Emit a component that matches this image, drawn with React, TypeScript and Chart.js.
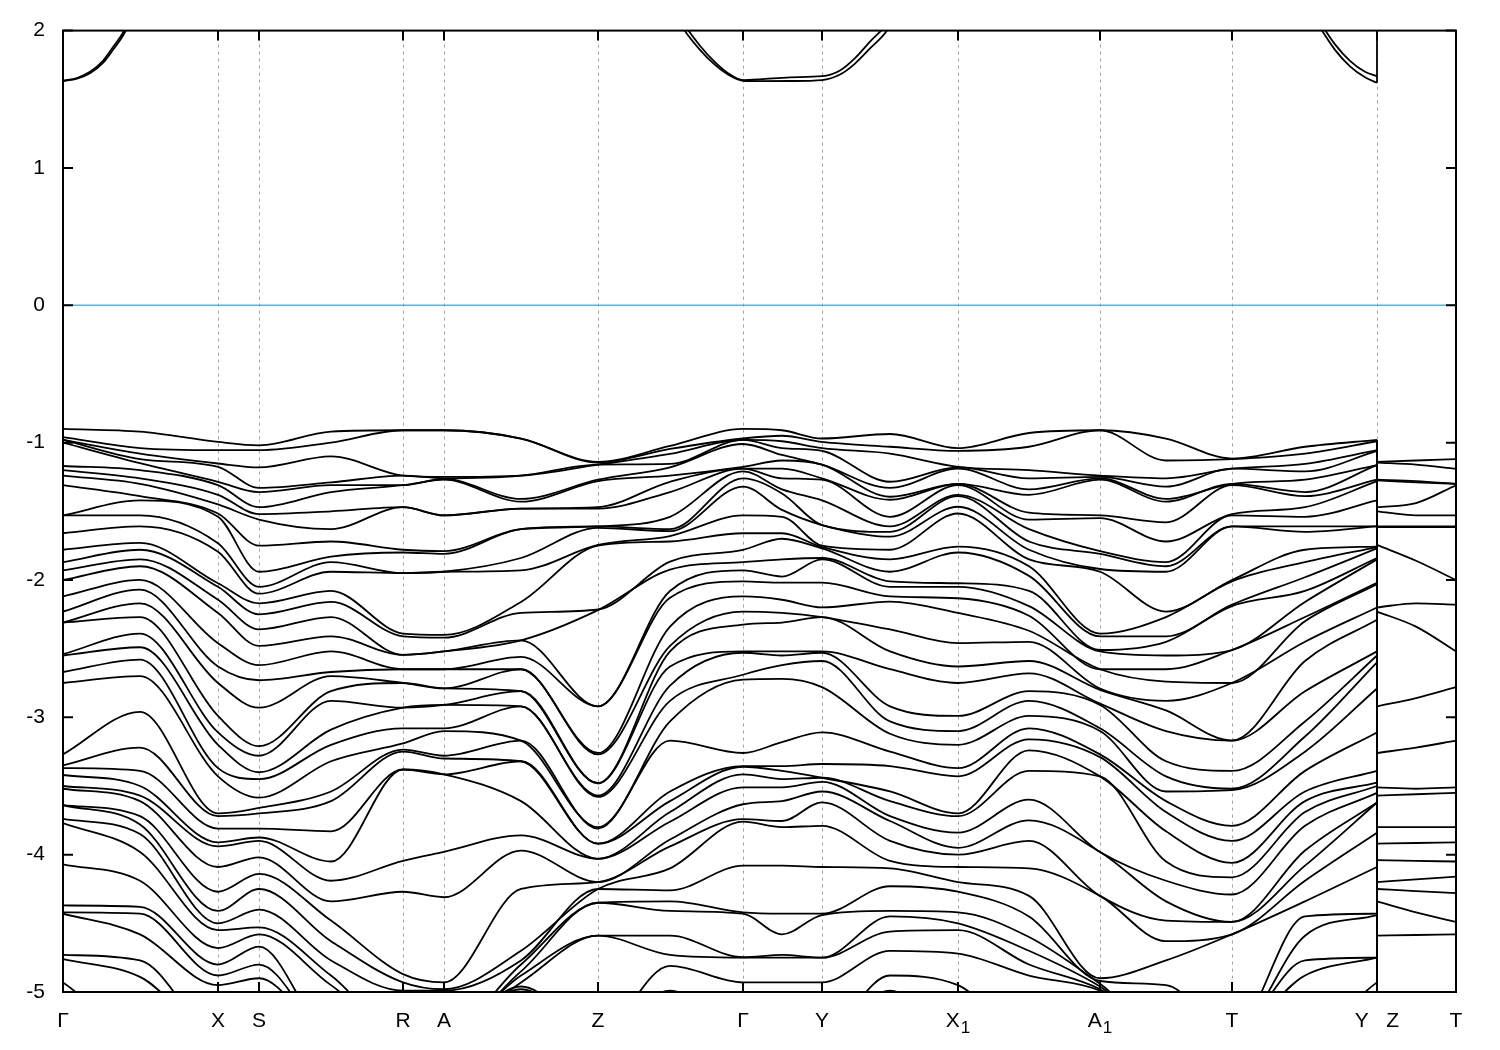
import React, { useEffect, useRef } from "react";
import { Chart, registerables } from "chart.js";

Chart.register(...registerables);

// ---- high-symmetry path ----
const kTickPos = [0, 0.155, 0.196, 0.34, 0.381, 0.535, 0.68, 0.759, 0.895, 1.037, 1.169, 1.314, 1.393];
const kTickNames = ["Γ", "X", "S", "R", "A", "Z", "Γ", "Y", "X", "A", "T", "Y   Z", "T"];
const kTickSubs = ["", "", "", "", "", "", "", "", "1", "1", "", "", ""];
const yTickValues = [-5, -4, -3, -2, -1, 0, 1, 2];

// k positions of the sampled columns (Γ ... Y) and of the Z–T piece
const kMain = [0, 0.077, 0.155, 0.196, 0.268, 0.34, 0.381, 0.458, 0.535, 0.607, 0.68, 0.719, 0.759, 0.827, 0.895, 0.966, 1.037, 1.103, 1.169, 1.242, 1.314];
const kZT = [1.314, 1.353, 1.393];

const NB = 42; // valence bands drawn
const BELOW = -5.3; // band lies below the plotted window

// ---- valence band energies (eV) at each column ----
const eG1 = [-0.90, -0.96, -0.98, -0.98, -1.00, -1.17, -1.20, -1.24, -1.31, -1.53, -1.53, -1.66, -1.78, -1.87, -1.93, -2.00, -2.12, -2.23, -2.31, -2.31, -2.54, -2.55, -2.67, -2.75, -3.27, -3.35, -3.37, -3.42, -3.50, -3.52, -3.64, -3.64, -3.74, -3.77, -4.07, -4.37, -4.42, -4.43, -4.73, -4.76, -4.93];
const e01 = [-0.92, -1.04, -1.08, -1.12, -1.15, -1.20, -1.26, -1.30, -1.39, -1.42, -1.53, -1.61, -1.73, -1.78, -1.85, -1.90, -2.00, -2.07, -2.17, -2.27, -2.39, -2.49, -2.58, -2.70, -2.96, -3.22, -3.39, -3.50, -3.57, -3.61, -3.72, -3.78, -3.85, -3.98, -4.19, -4.38, -4.43, -4.58, -4.77, -4.89];
const eX = [-0.995, -1.055, -1.152, -1.176, -1.285, -1.31, -1.38, -1.45, -1.516, -1.54, -1.733, -1.794, -2.024, -2.05, -2.144, -2.24, -2.46, -2.63, -2.75, -2.99, -3.11, -3.20, -3.37, -3.43, -3.70, -3.72, -3.81, -3.91, -3.94, -4.09, -4.27, -4.41, -4.50, -4.55, -4.68, -4.80, -4.88, -4.95];
const eS = [-1.02, -1.055, -1.18, -1.33, -1.36, -1.47, -1.52, -1.56, -1.75, -1.94, -2.05, -2.10, -2.17, -2.25, -2.36, -2.48, -2.62, -2.73, -2.93, -3.21, -3.28, -3.40, -3.45, -3.585, -3.66, -3.70, -3.81, -3.875, -3.90, -4.02, -4.14, -4.25, -4.40, -4.53, -4.58, -4.67, -4.80, -4.90];
const e04 = [-0.92, -1.00, -1.10, -1.29, -1.31, -1.36, -1.50, -1.63, -1.72, -1.83, -1.87, -1.94, -2.08, -2.16, -2.27, -2.41, -2.52, -2.67, -2.70, -2.81, -2.88, -3.09, -3.20, -3.32, -3.54, -3.61, -3.83, -4.05, -4.19, -4.34, -4.48, -4.63, -4.77, -4.88, -4.95];
const eR = [-0.91, -0.91, -1.24, -1.24, -1.31, -1.31, -1.47, -1.47, -1.78, -1.80, -1.95, -1.95, -2.39, -2.41, -2.545, -2.545, -2.65, -2.65, -2.75, -2.75, -2.93, -2.93, -3.08, -3.19, -3.235, -3.25, -3.38, -3.38, -4.045, -4.27, -4.87, -4.93, -4.99];
const eA = [-0.91, -0.91, -1.25, -1.26, -1.265, -1.27, -1.53, -1.53, -1.79, -1.81, -1.94, -1.94, -2.40, -2.42, -2.52, -2.52, -2.65, -2.65, -2.79, -2.79, -2.91, -2.91, -3.08, -3.10, -3.28, -3.30, -3.415, -3.415, -3.98, -4.31, -4.93, -4.98, -4.99];
const e07 = [-0.97, -0.97, -1.24, -1.24, -1.41, -1.43, -1.48, -1.48, -1.63, -1.63, -1.84, -1.93, -2.16, -2.24, -2.44, -2.44, -2.56, -2.65, -2.65, -2.81, -2.81, -2.92, -2.92, -3.17, -3.17, -3.32, -3.32, -3.61, -3.86, -3.97, -4.25, -4.70, -4.77, -4.80, -4.85, -4.88, -4.93, -4.96, -4.98, -5.00];
const eZ = [-1.14, -1.145, -1.16, -1.16, -1.27, -1.28, -1.47, -1.48, -1.61, -1.61, -1.62, -1.745, -1.75, -2.215, -2.22, -2.92, -2.92, -3.26, -3.27, -3.48, -3.48, -3.57, -3.58, -3.80, -3.81, -3.92, -3.92, -4.03, -4.03, -4.20, -4.20, -4.25, -4.25, -4.35, -4.35, -4.59, -4.59];
const e09 = [-1.024, -1.046, -1.082, -1.155, -1.18, -1.24, -1.285, -1.36, -1.54, -1.63, -1.645, -1.68, -1.72, -1.866, -1.925, -2.08, -2.13, -2.34, -2.48, -2.52, -2.63, -2.77, -2.88, -3.03, -3.17, -3.54, -3.61, -3.69, -3.76, -3.89, -3.94, -4.10, -4.26, -4.34, -4.41, -4.59, -4.73, -4.81, -4.99];
const eG2 = [-0.90, -0.97, -0.98, -0.98, -1.01, -1.176, -1.19, -1.19, -1.21, -1.26, -1.32, -1.53, -1.66, -1.78, -1.87, -1.93, -2.01, -2.12, -2.23, -2.325, -2.52, -2.53, -2.69, -2.725, -3.26, -3.355, -3.36, -3.415, -3.51, -3.633, -3.742, -3.76, -4.08, -4.42, -4.43, -4.747, -4.75, -4.93];
const e11 = [-0.91, -0.95, -0.99, -1.04, -1.09, -1.13, -1.19, -1.26, -1.34, -1.37, -1.49, -1.54, -1.66, -1.70, -1.85, -1.975, -2.02, -2.144, -2.24, -2.31, -2.52, -2.55, -2.62, -2.72, -3.18, -3.355, -3.39, -3.45, -3.51, -3.61, -3.755, -3.80, -4.08, -4.43, -4.58, -4.73, -4.75, -4.93];
const eY = [-0.97, -0.995, -1.04, -1.06, -1.16, -1.16, -1.26, -1.27, -1.42, -1.60, -1.60, -1.75, -1.76, -1.77, -1.84, -1.85, -2.02, -2.20, -2.27, -2.27, -2.52, -2.53, -2.59, -2.78, -3.11, -3.34, -3.44, -3.44, -3.47, -3.54, -3.62, -3.79, -4.09, -4.43, -4.44, -4.75, -4.75, -4.93];
const e13 = [-0.937, -1.03, -1.08, -1.285, -1.33, -1.394, -1.416, -1.54, -1.61, -1.65, -1.685, -1.78, -1.85, -1.94, -2.01, -2.05, -2.12, -2.157, -2.36, -2.52, -2.65, -2.92, -3.03, -3.12, -3.25, -3.355, -3.54, -3.61, -3.72, -3.755, -3.90, -4.045, -4.10, -4.23, -4.41, -4.45, -4.56, -4.70, -4.88, -4.99];
const eX1 = [-1.04, -1.06, -1.176, -1.18, -1.19, -1.30, -1.30, -1.31, -1.38, -1.39, -1.467, -1.516, -1.757, -1.80, -2.024, -2.05, -2.133, -2.24, -2.46, -2.63, -2.75, -2.99, -3.10, -3.20, -3.37, -3.43, -3.70, -3.72, -3.84, -3.95, -4.00, -4.09, -4.20, -4.27, -4.42, -4.50, -4.55, -4.72, -4.95];
const e15 = [-0.93, -1.03, -1.20, -1.26, -1.34, -1.38, -1.51, -1.56, -1.63, -1.72, -1.78, -1.85, -1.90, -1.97, -2.08, -2.19, -2.26, -2.37, -2.45, -2.59, -2.68, -2.81, -2.88, -2.99, -3.08, -3.16, -3.24, -3.39, -3.60, -3.75, -3.90, -4.10, -4.30, -4.45, -4.60, -4.70, -4.80, -4.88];
const eA1 = [-0.91, -0.91, -1.24, -1.25, -1.26, -1.27, -1.53, -1.55, -1.79, -1.81, -1.92, -1.94, -2.39, -2.41, -2.51, -2.52, -2.65, -2.65, -2.79, -2.80, -2.90, -2.91, -3.08, -3.10, -3.27, -3.29, -3.43, -3.43, -3.98, -3.98, -4.30, -4.30, -4.90, -4.92, -4.94, -4.96, -4.98, -4.99];
const e17 = [-0.97, -1.13, -1.26, -1.32, -1.41, -1.43, -1.58, -1.72, -1.87, -1.90, -1.94, -2.23, -2.27, -2.41, -2.45, -2.55, -2.65, -2.74, -2.88, -2.95, -3.10, -3.32, -3.43, -3.54, -3.61, -3.69, -3.83, -4.05, -4.19, -4.34, -4.48, -4.63, -4.77, -4.95];
const eT = [-1.116, -1.12, -1.19, -1.19, -1.30, -1.30, -1.31, -1.52, -1.53, -1.61, -1.61, -2.00, -2.01, -2.18, -2.19, -2.51, -2.51, -2.75, -2.75, -3.17, -3.17, -3.39, -3.52, -3.53, -3.79, -3.90, -4.06, -4.165, -4.29, -4.49, -4.49, -4.58, -4.58];
const e19 = [-1.03, -1.08, -1.155, -1.21, -1.27, -1.36, -1.39, -1.47, -1.54, -1.61, -1.65, -1.78, -1.87, -1.98, -2.08, -2.16, -2.27, -2.30, -2.45, -2.59, -2.81, -3.03, -3.14, -3.25, -3.39, -3.54, -3.61, -3.69, -3.79, -3.97, -4.08, -4.19, -4.34, -4.45, -4.59, -4.77, -4.88];
const eY2 = [-0.98, -0.99, -1.055, -1.06, -1.164, -1.164, -1.27, -1.28, -1.42, -1.61, -1.61, -1.757, -1.76, -1.77, -1.84, -1.85, -2.02, -2.03, -2.20, -2.29, -2.52, -2.55, -2.60, -2.79, -3.11, -3.39, -3.476, -3.50, -3.55, -3.62, -3.62, -3.84, -4.09, -4.43, -4.44, -4.75, -4.75, -4.93];
// Z–T piece
const eZb = [-1.14, -1.145, -1.27, -1.275, -1.47, -1.50, -1.61, -1.615, -1.745, -2.20, -2.23, -2.92, -3.26, -3.51, -3.57, -3.80, -3.92, -4.04, -4.20, -4.25, -4.34, -4.59];
const eZT1 = [-1.13, -1.16, -1.28, -1.29, -1.44, -1.53, -1.61, -1.615, -1.86, -2.17, -2.34, -2.86, -3.22, -3.52, -3.56, -3.80, -3.915, -4.045, -4.18, -4.265, -4.42, -4.585];
const eTb = [-1.12, -1.19, -1.30, -1.30, -1.31, -1.53, -1.61, -1.615, -2.00, -2.18, -2.52, -2.78, -3.17, -3.51, -3.55, -3.80, -3.91, -4.05, -4.16, -4.28, -4.49, -4.58];

// ---- conduction bands (two nearly degenerate bands) ----
const cbK1 = [0, 0.014, 0.027, 0.04, 0.05, 0.062, 0.08];
const cbA1 = [1.632, 1.65, 1.69, 1.765, 1.86, 1.99, 2.3];
const cbB1 = [1.635, 1.655, 1.70, 1.78, 1.88, 2.01, 2.32];
const cbK2 = [0.58, 0.62, 0.637, 0.652, 0.665, 0.68, 0.697, 0.727, 0.759, 0.777, 0.792, 0.807, 0.824, 0.86];
const cbA2 = [2.6, 2.02, 1.86, 1.75, 1.68, 1.635, 1.632, 1.633, 1.64, 1.68, 1.76, 1.87, 2.0, 2.5];
const cbB2 = [2.6, 2.06, 1.89, 1.77, 1.69, 1.64, 1.645, 1.66, 1.668, 1.71, 1.80, 1.92, 2.05, 2.5];
const cbK3 = [1.22, 1.242, 1.259, 1.272, 1.287, 1.302, 1.314];
const cbA3 = [2.45, 2.2, 2.0, 1.86, 1.74, 1.66, 1.62];
const cbB3 = [2.5, 2.25, 2.04, 1.9, 1.78, 1.70, 1.668];
const cbAtZ = 2.6;

const FONT = "'Liberation Sans', Arial, Helvetica, sans-serif";
const FONT_SIZE = 21;

function sortCol(col: number[]): number[] {
  const s = [...col].sort((a, b) => b - a);
  while (s.length < NB) s.push(BELOW);
  return s.slice(0, NB);
}

const framePlugin = {
  id: "frame",
  afterDatasetsDraw(chart: any) {
    const { ctx, chartArea: a, scales } = chart;
    ctx.save();
    ctx.strokeStyle = "#000";
    ctx.lineWidth = 2;
    ctx.strokeRect(a.left, a.top, a.right - a.left, a.bottom - a.top);
    ctx.beginPath();
    for (const v of yTickValues) {
      const y = scales.y.getPixelForValue(v);
      ctx.moveTo(a.left, y);
      ctx.lineTo(a.left + 10, y);
      ctx.moveTo(a.right, y);
      ctx.lineTo(a.right - 10, y);
    }
    for (const v of kTickPos) {
      const x = scales.x.getPixelForValue(v);
      ctx.moveTo(x, a.bottom);
      ctx.lineTo(x, a.bottom - 10);
      ctx.moveTo(x, a.top);
      ctx.lineTo(x, a.top + 10);
    }
    ctx.stroke();

    // x tick labels (with subscripts)
    ctx.fillStyle = "#000";
    ctx.textBaseline = "alphabetic";
    ctx.textAlign = "left";
    const base = a.bottom + 35;
    const mainFont = `${FONT_SIZE}px ${FONT}`;
    const subFont = `${Math.round(FONT_SIZE * 0.8)}px ${FONT}`;
    kTickPos.forEach((v, i) => {
      const x = scales.x.getPixelForValue(v);
      ctx.font = mainFont;
      const w1 = ctx.measureText(kTickNames[i]).width;
      ctx.font = subFont;
      const w2 = kTickSubs[i] ? ctx.measureText(kTickSubs[i]).width + 1 : 0;
      const x0 = x - (w1 + w2) / 2;
      ctx.font = mainFont;
      ctx.fillText(kTickNames[i], x0, base);
      if (kTickSubs[i]) {
        ctx.font = subFont;
        ctx.fillText(kTickSubs[i], x0 + w1 + 1, base + 6);
      }
    });
    ctx.restore();
  },
};

export default function App() {
  const ref = useRef<HTMLCanvasElement | null>(null);
  useEffect(() => {
    if (!ref.current) return;
    const mainCols = [eG1, e01, eX, eS, e04, eR, eA, e07, eZ, e09, eG2, e11, eY, e13, eX1, e15, eA1, e17, eT, e19, eY2].map(sortCol);
    const ztCols = [eZb, eZT1, eTb].map(sortCol);
    const line = (data: any[], color = "#000", smooth = true, width = 1.8): any => ({
      data,
      borderColor: color,
      borderWidth: width,
      pointRadius: 0,
      fill: false,
      clip: 0,
      tension: 0,
      cubicInterpolationMode: smooth ? "monotone" : "default",
    });
    const datasets: any[] = [];
    datasets.push(line([{ x: kTickPos[0], y: 0 }, { x: kTickPos[kTickPos.length - 1], y: 0 }], "#56B4E9", false, 1.6));
    for (let b = 0; b < NB; b++) {
      datasets.push(line(kMain.map((k, i) => ({ x: k, y: mainCols[i][b] }))));
      datasets.push(line(kZT.map((k, i) => ({ x: k, y: ztCols[i][b] }))));
      datasets.push(line([{ x: kMain[kMain.length - 1], y: mainCols[mainCols.length - 1][b] }, { x: kZT[0], y: ztCols[0][b] }], "#000", false));
    }
    const cbPairs: [number[], number[]][] = [[cbK1, cbA1], [cbK1, cbB1], [cbK2, cbA2], [cbK2, cbB2], [cbK3, cbA3], [cbK3, cbB3]];
    for (const [ks, es] of cbPairs) datasets.push(line(ks.map((k, i) => ({ x: k, y: es[i] }))));
    datasets.push(line([{ x: cbK3[cbK3.length - 1], y: cbA3[cbA3.length - 1] }, { x: kZT[0], y: cbAtZ }], "#000", false));

    const chart = new Chart(ref.current, {
      type: "line",
      data: { datasets },
      options: {
        animation: false,
        responsive: false,
        devicePixelRatio: 1,
        events: [],
        layout: { padding: { left: 0, right: 44, top: 28, bottom: 0 } },
        plugins: { legend: { display: false }, tooltip: { enabled: false } },
        scales: {
          x: {
            type: "linear",
            min: kTickPos[0],
            max: kTickPos[kTickPos.length - 1],
            afterBuildTicks: (s: any) => {
              s.ticks = kTickPos.map((v) => ({ value: v }));
            },
            afterFit: (s: any) => {
              s.height = 58;
            },
            ticks: { display: false, autoSkip: false },
            grid: { color: "#a0a0a0", lineWidth: 1, drawTicks: false },
            border: { display: false, dash: [3, 4] },
          },
          y: {
            type: "linear",
            min: -5,
            max: 2,
            afterBuildTicks: (s: any) => {
              s.ticks = yTickValues.map((v) => ({ value: v }));
            },
            afterFit: (s: any) => {
              s.width = 63;
            },
            ticks: {
              padding: 18,
              color: "#000",
              font: { family: FONT, size: FONT_SIZE },
              callback: (v: any) => String(v),
            },
            grid: { display: false, drawTicks: false },
            border: { display: false },
          },
        },
      } as any,
      plugins: [framePlugin],
    });
    return () => chart.destroy();
  }, []);
  return (
    <div style={{ position: "absolute", left: 0, top: 0, width: 1500, height: 1050, background: "#fff" }}>
      <canvas ref={ref} width={1500} height={1050} style={{ display: "block" }} />
    </div>
  );
}
